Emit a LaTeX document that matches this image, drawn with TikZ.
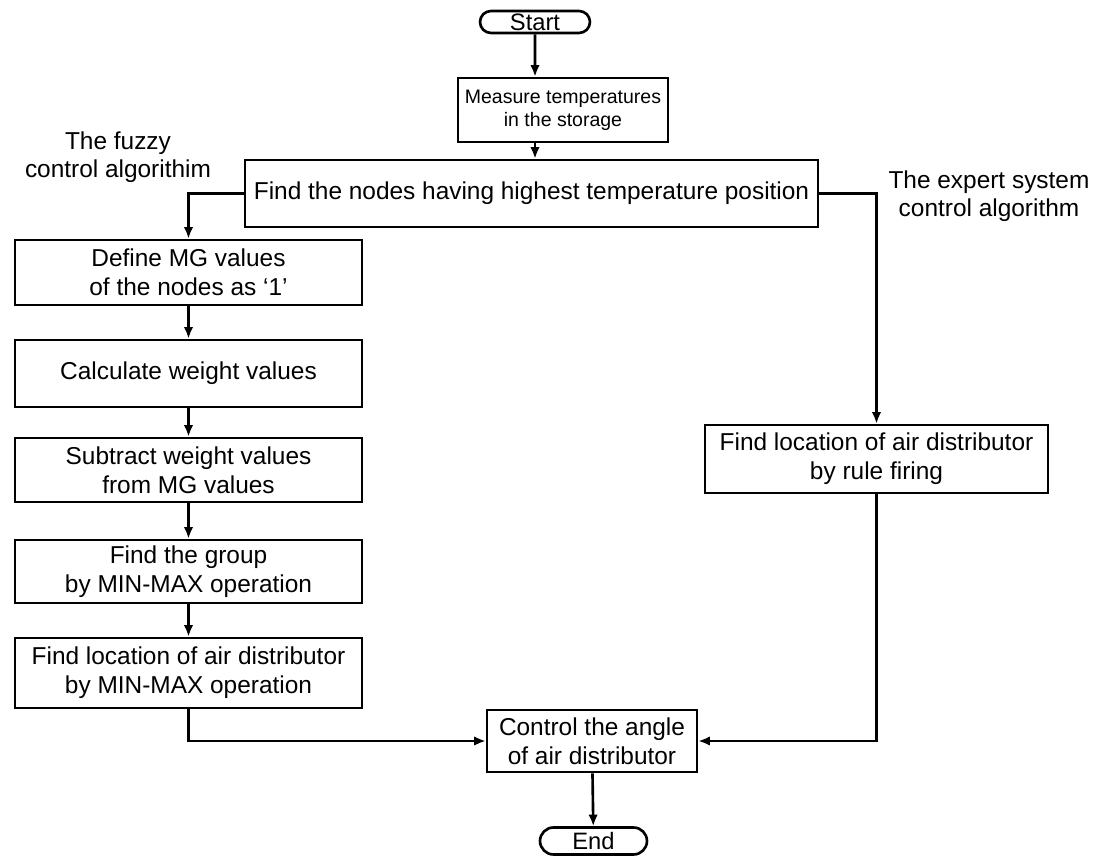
\documentclass[tikz,border=0pt]{standalone}
\usepackage{fontspec}
\setmainfont{Liberation Sans}
\usetikzlibrary{arrows.meta,shapes.misc}

\begin{document}
\begin{tikzpicture}[x=0.02cm,y=-0.02cm,
    flowbox/.style={draw,line width=1.5pt,inner sep=0pt,align=center,minimum width=6.94cm,font=\fontsize{13.9}{16.5}\selectfont},
    termnode/.style={draw,rounded rectangle,line width=1.5pt,inner sep=0pt,font=\fontsize{13.5}{15}\selectfont},
    link/.style={line width=1.5pt,-{Latex[length=2.3mm,width=1.9mm]}},
    tag/.style={align=center,font=\fontsize{13.9}{15.8}\selectfont}]
    \useasboundingbox (0,0) rectangle (1095,857);

    % main line
    \node[termnode,minimum width=2.2cm,minimum height=0.44cm] (start) at (535,22) {Start};
    \node[flowbox,minimum width=4.2cm,minimum height=1.28cm,font=\fontsize{11.1}{13}\selectfont] (measure) at (563,110) {Measure temperatures\\in the storage};
    \node[flowbox,minimum width=11.46cm,minimum height=1.34cm] (find) at (531.5,193.5) {Find the nodes having highest temperature position};

    % fuzzy branch
    \node[flowbox,minimum height=1.3cm] (define) at (188.5,272.5) {Define MG values\\of the nodes as `1'};
    \node[flowbox,minimum height=1.34cm] (weight) at (188.5,373.5) {Calculate weight values};
    \node[flowbox,minimum height=1.28cm] (subtract) at (188.5,470) {Subtract weight values\\from MG values};
    \node[flowbox,minimum height=1.26cm] (group) at (188.5,571.5) {Find the group\\by MIN-MAX operation};
    \node[flowbox,minimum height=1.4cm] (minmax) at (188.5,673) {Find location of air distributor\\by MIN-MAX operation};

    % expert branch
    \node[flowbox,minimum width=6.86cm,minimum height=1.36cm] (rule) at (876.5,459) {Find location of air distributor\\by rule firing};

    \node[flowbox,minimum width=4.2cm,minimum height=1.24cm] (angle) at (592,741) {Control the angle\\of air distributor};
    \node[termnode,minimum width=2.14cm,minimum height=0.54cm] (end) at (593.5,841) {End};

    \node[tag] (fuzzy) at (118,157) {The fuzzy\\control algorithim};
    \node[tag] (expert) at (989,196) {The expert system\\control algorithm};

    \draw[link] (start) -- (start |- measure.north);
    \draw[link] (measure.south -| start) -- (start |- find.north);
    \draw[link] (find.west) -| (define.north);
    \draw[link] (define) -- (weight);
    \draw[link] (weight) -- (subtract);
    \draw[link] (subtract) -- (group);
    \draw[link] (group) -- (minmax);
    \draw[link] (minmax.south) |- (angle.west);
    \draw[link] (find.east) -| (rule.north);
    \draw[link] (rule.south) |- (angle.east);
    \draw[link] (angle) -- (end);
\end{tikzpicture}
\end{document}
